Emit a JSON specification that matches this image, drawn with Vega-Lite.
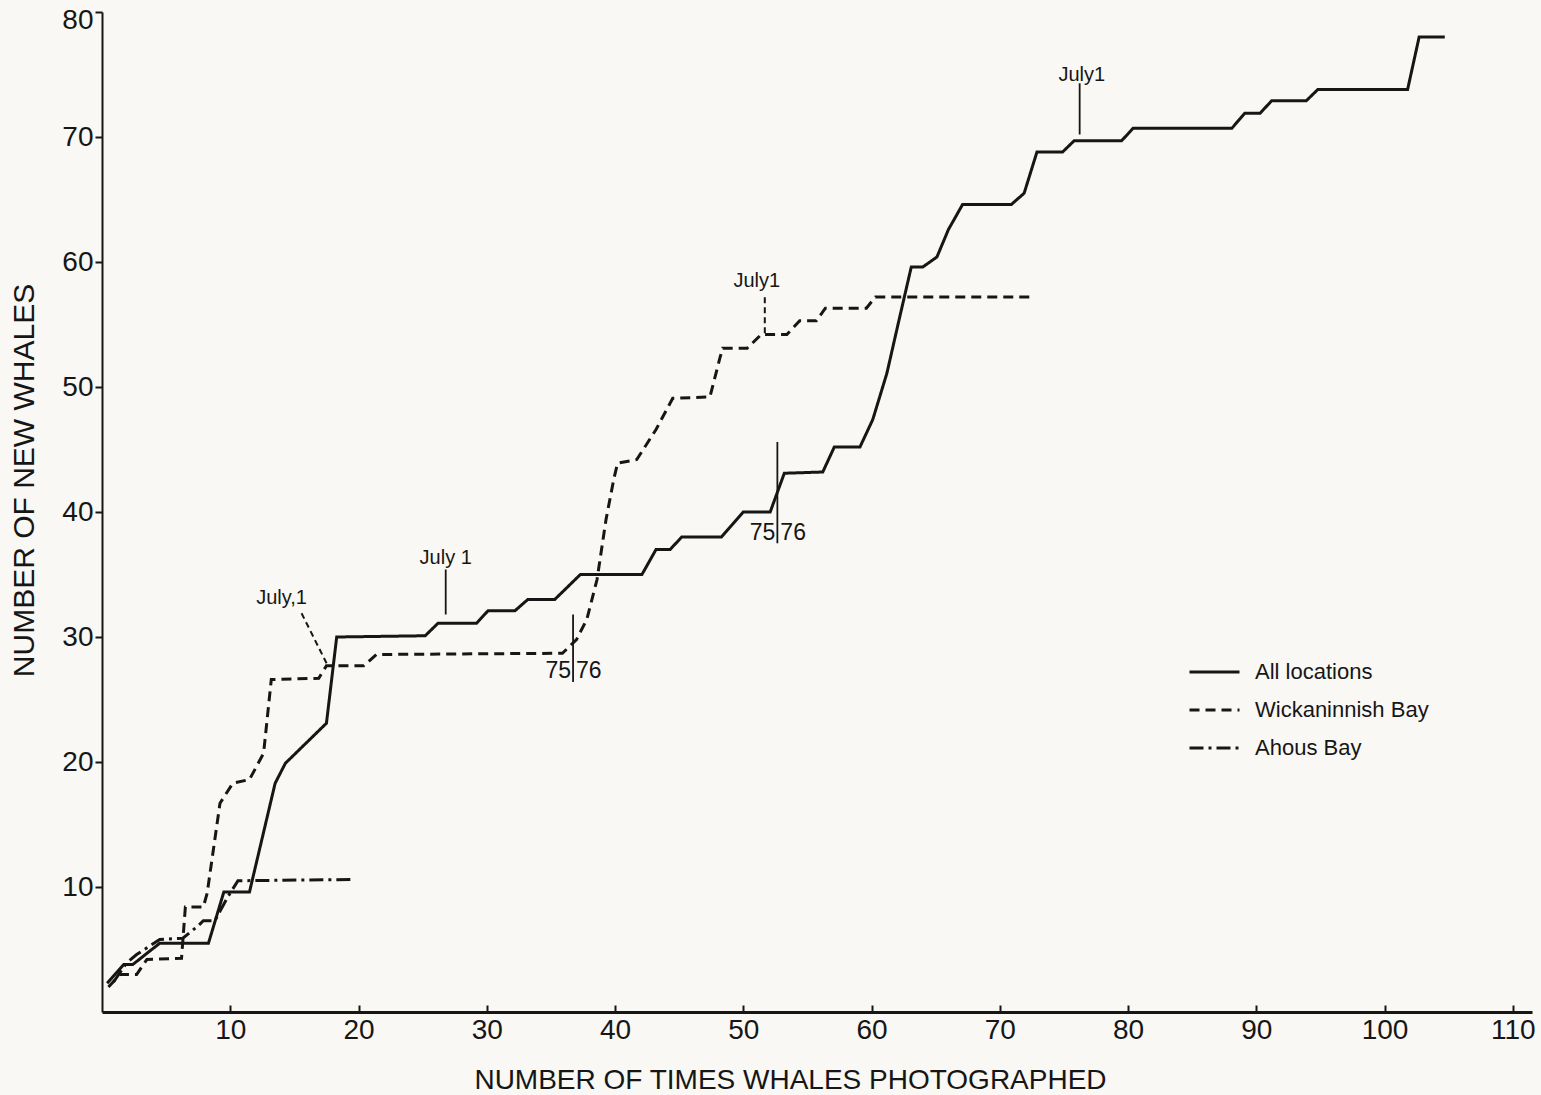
{
  "$schema": "https://vega.github.io/schema/vega-lite/v6.json",
  "width": 1430,
  "height": 1000,
  "autosize": {"type": "none"},
  "padding": {"left": 102, "top": 12, "right": 9, "bottom": 83},
  "background": "#f9f8f4",
  "config": {
    "view": {"stroke": null},
    "font": "Liberation Sans",
    "axis": {"grid": false}
  },
  "datasets": {
    "lines": [
      {"series": "All locations", "n": 0.4, "whales": 2.3},
      {"series": "All locations", "n": 1.7, "whales": 3.8},
      {"series": "All locations", "n": 2.4, "whales": 3.8},
      {"series": "All locations", "n": 4.5, "whales": 5.5},
      {"series": "All locations", "n": 8.3, "whales": 5.5},
      {"series": "All locations", "n": 9.5, "whales": 9.6},
      {"series": "All locations", "n": 11.5, "whales": 9.6},
      {"series": "All locations", "n": 13.5, "whales": 18.3},
      {"series": "All locations", "n": 14.3, "whales": 19.9},
      {"series": "All locations", "n": 17.5, "whales": 23.1},
      {"series": "All locations", "n": 18.3, "whales": 30.0},
      {"series": "All locations", "n": 25.2, "whales": 30.1},
      {"series": "All locations", "n": 26.2, "whales": 31.1},
      {"series": "All locations", "n": 29.2, "whales": 31.1},
      {"series": "All locations", "n": 30.1, "whales": 32.1},
      {"series": "All locations", "n": 32.2, "whales": 32.1},
      {"series": "All locations", "n": 33.2, "whales": 33.0},
      {"series": "All locations", "n": 35.3, "whales": 33.0},
      {"series": "All locations", "n": 37.3, "whales": 35.0},
      {"series": "All locations", "n": 42.1, "whales": 35.0},
      {"series": "All locations", "n": 43.2, "whales": 37.0},
      {"series": "All locations", "n": 44.3, "whales": 37.0},
      {"series": "All locations", "n": 45.2, "whales": 38.0},
      {"series": "All locations", "n": 48.3, "whales": 38.0},
      {"series": "All locations", "n": 50.0, "whales": 40.0},
      {"series": "All locations", "n": 52.1, "whales": 40.0},
      {"series": "All locations", "n": 53.2, "whales": 43.1},
      {"series": "All locations", "n": 56.2, "whales": 43.2},
      {"series": "All locations", "n": 57.1, "whales": 45.2},
      {"series": "All locations", "n": 59.1, "whales": 45.2},
      {"series": "All locations", "n": 60.1, "whales": 47.4},
      {"series": "All locations", "n": 61.2, "whales": 51.1},
      {"series": "All locations", "n": 62.2, "whales": 55.6},
      {"series": "All locations", "n": 63.1, "whales": 59.6},
      {"series": "All locations", "n": 64.0, "whales": 59.6},
      {"series": "All locations", "n": 65.1, "whales": 60.4},
      {"series": "All locations", "n": 66.0, "whales": 62.6},
      {"series": "All locations", "n": 67.1, "whales": 64.6},
      {"series": "All locations", "n": 70.9, "whales": 64.6},
      {"series": "All locations", "n": 71.9, "whales": 65.5},
      {"series": "All locations", "n": 72.9, "whales": 68.8},
      {"series": "All locations", "n": 74.9, "whales": 68.8},
      {"series": "All locations", "n": 75.8, "whales": 69.7},
      {"series": "All locations", "n": 79.5, "whales": 69.7},
      {"series": "All locations", "n": 80.4, "whales": 70.7},
      {"series": "All locations", "n": 88.1, "whales": 70.7},
      {"series": "All locations", "n": 89.1, "whales": 71.9},
      {"series": "All locations", "n": 90.3, "whales": 71.9},
      {"series": "All locations", "n": 91.2, "whales": 72.9},
      {"series": "All locations", "n": 93.9, "whales": 72.9},
      {"series": "All locations", "n": 94.8, "whales": 73.8},
      {"series": "All locations", "n": 101.8, "whales": 73.8},
      {"series": "All locations", "n": 102.7, "whales": 78.0},
      {"series": "All locations", "n": 104.7, "whales": 78.0},
      {"series": "Wickaninnish Bay", "n": 0.5, "whales": 2.0},
      {"series": "Wickaninnish Bay", "n": 1.4, "whales": 3.0},
      {"series": "Wickaninnish Bay", "n": 2.7, "whales": 3.0},
      {"series": "Wickaninnish Bay", "n": 3.5, "whales": 4.2},
      {"series": "Wickaninnish Bay", "n": 6.2, "whales": 4.3},
      {"series": "Wickaninnish Bay", "n": 6.5, "whales": 8.4},
      {"series": "Wickaninnish Bay", "n": 7.9, "whales": 8.4},
      {"series": "Wickaninnish Bay", "n": 8.2, "whales": 9.5},
      {"series": "Wickaninnish Bay", "n": 9.2, "whales": 16.7},
      {"series": "Wickaninnish Bay", "n": 10.2, "whales": 18.3},
      {"series": "Wickaninnish Bay", "n": 11.5, "whales": 18.6},
      {"series": "Wickaninnish Bay", "n": 12.6, "whales": 20.7},
      {"series": "Wickaninnish Bay", "n": 13.2, "whales": 26.6},
      {"series": "Wickaninnish Bay", "n": 16.9, "whales": 26.7},
      {"series": "Wickaninnish Bay", "n": 17.5, "whales": 27.7},
      {"series": "Wickaninnish Bay", "n": 20.4, "whales": 27.7},
      {"series": "Wickaninnish Bay", "n": 21.4, "whales": 28.6},
      {"series": "Wickaninnish Bay", "n": 35.9, "whales": 28.7},
      {"series": "Wickaninnish Bay", "n": 37.0, "whales": 29.8},
      {"series": "Wickaninnish Bay", "n": 37.8, "whales": 31.4},
      {"series": "Wickaninnish Bay", "n": 38.6, "whales": 34.6},
      {"series": "Wickaninnish Bay", "n": 39.3, "whales": 39.4},
      {"series": "Wickaninnish Bay", "n": 39.9, "whales": 42.6},
      {"series": "Wickaninnish Bay", "n": 40.2, "whales": 43.9},
      {"series": "Wickaninnish Bay", "n": 41.7, "whales": 44.2},
      {"series": "Wickaninnish Bay", "n": 43.2, "whales": 46.6},
      {"series": "Wickaninnish Bay", "n": 44.5, "whales": 49.1},
      {"series": "Wickaninnish Bay", "n": 47.4, "whales": 49.2},
      {"series": "Wickaninnish Bay", "n": 48.2, "whales": 52.4},
      {"series": "Wickaninnish Bay", "n": 48.4, "whales": 53.1},
      {"series": "Wickaninnish Bay", "n": 50.3, "whales": 53.1},
      {"series": "Wickaninnish Bay", "n": 51.4, "whales": 54.2},
      {"series": "Wickaninnish Bay", "n": 53.4, "whales": 54.2},
      {"series": "Wickaninnish Bay", "n": 54.4, "whales": 55.3},
      {"series": "Wickaninnish Bay", "n": 55.7, "whales": 55.3},
      {"series": "Wickaninnish Bay", "n": 56.4, "whales": 56.3},
      {"series": "Wickaninnish Bay", "n": 59.6, "whales": 56.3},
      {"series": "Wickaninnish Bay", "n": 60.3, "whales": 57.2},
      {"series": "Wickaninnish Bay", "n": 72.6, "whales": 57.2},
      {"series": "Ahous Bay", "n": 0.9, "whales": 2.4},
      {"series": "Ahous Bay", "n": 1.9, "whales": 3.9},
      {"series": "Ahous Bay", "n": 2.7, "whales": 4.6},
      {"series": "Ahous Bay", "n": 4.5, "whales": 5.8},
      {"series": "Ahous Bay", "n": 6.3, "whales": 5.9},
      {"series": "Ahous Bay", "n": 7.5, "whales": 6.9},
      {"series": "Ahous Bay", "n": 7.9, "whales": 7.3},
      {"series": "Ahous Bay", "n": 8.8, "whales": 7.3},
      {"series": "Ahous Bay", "n": 9.8, "whales": 9.2},
      {"series": "Ahous Bay", "n": 10.6, "whales": 10.5},
      {"series": "Ahous Bay", "n": 19.7, "whales": 10.6}
    ],
    "rulesSolid": [
      {"n": 26.8, "whales": 31.8, "n2": 26.8, "whales2": 35.4},
      {"n": 36.73, "whales": 26.4, "n2": 36.73, "whales2": 31.8},
      {"n": 52.66, "whales": 37.5, "n2": 52.66, "whales2": 45.6},
      {"n": 76.23, "whales": 70.2, "n2": 76.23, "whales2": 74.3}
    ],
    "rulesDashed": [
      {"n": 15.56, "whales": 31.9, "n2": 17.51, "whales2": 27.9},
      {"n": 51.68, "whales": 54.3, "n2": 51.68, "whales2": 57.4}
    ],
    "notes": [
      {"label": "July,1", "n": 14.0, "whales": 33.1},
      {"label": "July 1", "n": 26.8, "whales": 36.3},
      {"label": "July1", "n": 51.05, "whales": 58.5},
      {"label": "July1", "n": 76.4, "whales": 75.0}
    ],
    "yearLeft": [
      {"label": "75", "n": 36.73, "whales": 27.3},
      {"label": "75", "n": 52.66, "whales": 38.3}
    ],
    "yearRight": [
      {"label": "76", "n": 36.73, "whales": 27.3},
      {"label": "76", "n": 52.66, "whales": 38.3}
    ]
  },
  "layer": [
    {
      "data": {"name": "lines"},
      "mark": {"type": "line", "strokeWidth": 3, "color": "#161616", "strokeJoin": "miter"},
      "encoding": {
        "x": {
          "field": "n", "type": "quantitative",
          "scale": {"domain": [0, 111.5], "nice": false, "zero": false},
          "axis": {
            "title": "NUMBER OF TIMES WHALES PHOTOGRAPHED",
            "values": [10, 20, 30, 40, 50, 60, 70, 80, 90, 100, 110],
            "grid": false,
            "domainColor": "#161616", "domainWidth": 3,
            "tickColor": "#161616", "tickWidth": 2, "tickSize": -7,
            "labelPadding": 11, "labelFontSize": 28, "labelColor": "#161616",
            "labelFlush": false, "labelOverlap": false,
            "titleFontSize": 28, "titleFontWeight": "normal", "titleColor": "#161616",
            "titleX": 688, "titleY": 68, "titleBaseline": "middle", "titleAlign": "center"
          }
        },
        "y": {
          "field": "whales", "type": "quantitative",
          "scale": {"domain": [0, 80], "nice": false, "zero": false},
          "axis": {
            "title": "NUMBER OF NEW WHALES",
            "values": [10, 20, 30, 40, 50, 60, 70, 80],
            "grid": false,
            "domainColor": "#161616", "domainWidth": 2,
            "tickColor": "#161616", "tickWidth": 2, "tickSize": 7,
            "labelPadding": 2, "labelFontSize": 28, "labelColor": "#161616",
            "labelOffset": {"condition": {"test": "datum.value == 80", "value": 8}, "value": 0},
            "labelFlush": false, "labelOverlap": false,
            "titleFontSize": 30, "titleFontWeight": "normal", "titleColor": "#161616",
            "titleX": -78, "titleY": 468, "titleAngle": -90,
            "titleBaseline": "middle", "titleAlign": "center"
          }
        },
        "strokeDash": {
          "field": "series", "type": "nominal",
          "scale": {
            "domain": ["All locations", "Wickaninnish Bay", "Ahous Bay"],
            "range": [[1, 0], [10, 6], [14, 5, 3, 5]]
          },
          "legend": {
            "title": null, "orient": "none", "legendX": 1086, "legendY": 641,
            "padding": 0,
            "symbolType": "stroke", "symbolSize": 2500, "symbolStrokeWidth": 3,
            "symbolStrokeColor": "#161616",
            "labelFontSize": 22, "labelColor": "#161616", "labelOffset": 14,
            "labelLimit": 400,
            "clipHeight": 38, "rowPadding": 0
          }
        }
      }
    },
    {
      "data": {"name": "rulesSolid"},
      "mark": {"type": "rule", "strokeWidth": 1.8, "color": "#161616"},
      "encoding": {
        "x": {"field": "n", "type": "quantitative"},
        "y": {"field": "whales", "type": "quantitative"},
        "x2": {"field": "n2"},
        "y2": {"field": "whales2"}
      }
    },
    {
      "data": {"name": "rulesDashed"},
      "mark": {"type": "rule", "strokeWidth": 2, "color": "#161616", "strokeDash": [6, 4]},
      "encoding": {
        "x": {"field": "n", "type": "quantitative"},
        "y": {"field": "whales", "type": "quantitative"},
        "x2": {"field": "n2"},
        "y2": {"field": "whales2"}
      }
    },
    {
      "data": {"name": "notes"},
      "mark": {"type": "text", "fontSize": 20, "color": "#161616", "align": "center", "baseline": "middle"},
      "encoding": {
        "x": {"field": "n", "type": "quantitative"},
        "y": {"field": "whales", "type": "quantitative"},
        "text": {"field": "label"}
      }
    },
    {
      "data": {"name": "yearLeft"},
      "mark": {"type": "text", "fontSize": 23, "color": "#161616", "align": "right", "baseline": "middle", "dx": -2},
      "encoding": {
        "x": {"field": "n", "type": "quantitative"},
        "y": {"field": "whales", "type": "quantitative"},
        "text": {"field": "label"}
      }
    },
    {
      "data": {"name": "yearRight"},
      "mark": {"type": "text", "fontSize": 23, "color": "#161616", "align": "left", "baseline": "middle", "dx": 3},
      "encoding": {
        "x": {"field": "n", "type": "quantitative"},
        "y": {"field": "whales", "type": "quantitative"},
        "text": {"field": "label"}
      }
    }
  ]
}
